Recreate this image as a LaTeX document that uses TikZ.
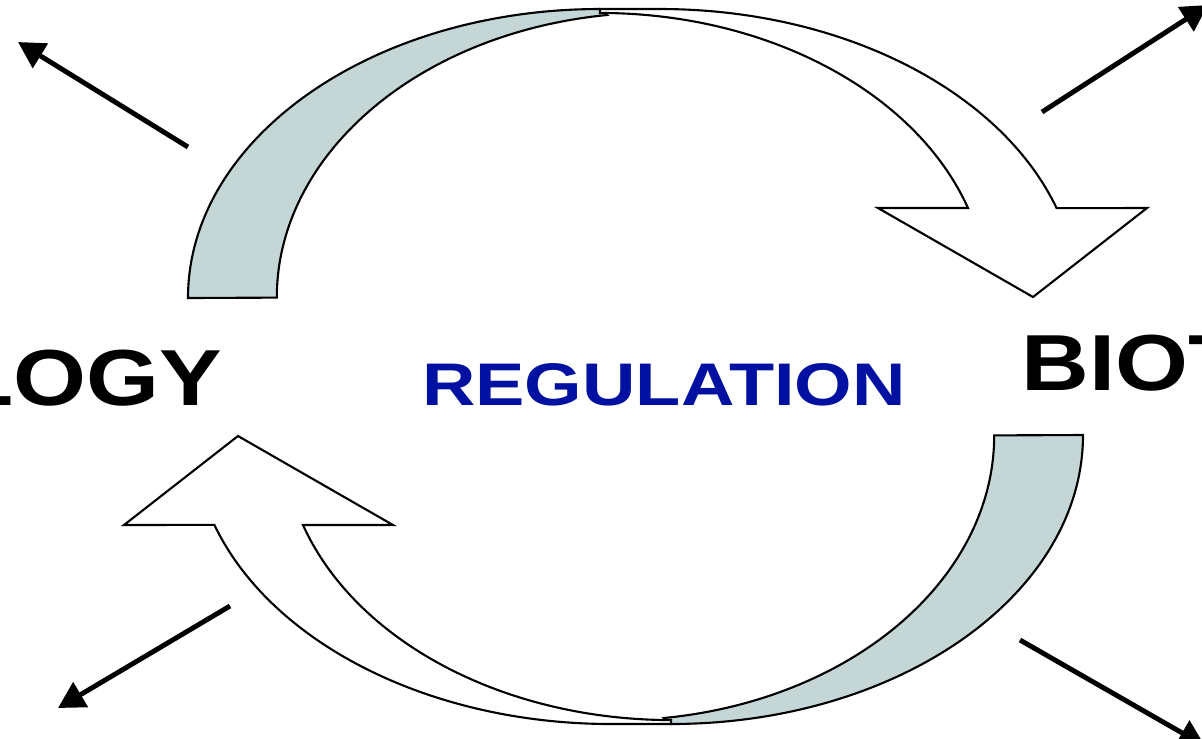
\documentclass[tikz,border=0pt]{standalone}
\usepackage{fontspec}
\setmainfont{Liberation Sans}
\usetikzlibrary{arrows.meta}
\definecolor{bandgrey}{RGB}{196,214,214}
\definecolor{regblue}{RGB}{0,16,160}

\begin{document}
\begin{tikzpicture}[x=0.01cm, y=-0.01cm,
  band/.style={draw=black, line width=0.6pt, fill=bandgrey},
  face/.style={draw=black, line width=0.6pt, fill=white},
  outarrow/.style={line width=1.4pt, -{Triangle[length=7.5pt,width=8pt]}},
  word/.style={inner sep=0pt, font=\bfseries\fontsize{22.6}{26}\selectfont}]
  \useasboundingbox (0,0) rectangle (1202,738);
  \clip (0,0) rectangle (1202,738);

  % Top arrow
  \draw[band] (188,298) arc[start angle=180, end angle=270, x radius=412, y radius=289]
    -- (607,15) arc[start angle=262.6, end angle=180, x radius=379, y radius=285] -- cycle;
  \draw[face] (600,9) -- (660,9) arc[start angle=270, end angle=341.6, x radius=418, y radius=291]
    -- (1147,208) -- (1033,297) -- (878,208) -- (968,208)
    arc[start angle=341.6, end angle=270, x radius=388, y radius=285] -- cycle;

  % Bottom arrow
  \begin{scope}[rotate around={180:(635.5,366.5)}]
    \draw[band] (188,298) arc[start angle=180, end angle=270, x radius=412, y radius=289]
      -- (607,15) arc[start angle=262.6, end angle=180, x radius=379, y radius=285] -- cycle;
    \draw[face] (600,9) -- (660,9) arc[start angle=270, end angle=341.6, x radius=418, y radius=291]
      -- (1147,208) -- (1033,297) -- (878,208) -- (968,208)
      arc[start angle=341.6, end angle=270, x radius=388, y radius=285] -- cycle;
  \end{scope}

  % Words
  \node[word, anchor=base east] (logy) at (223,405) {\scalebox{1.18}[1]{LOGY}};
  \node[word, anchor=base west] (biot) at (1021,390) {\scalebox{1.18}[1]{BIOT}};
  \node[word, text=regblue, font=\bfseries\fontsize{17.1}{20}\selectfont, anchor=base] (reg) at (664,405) {\scalebox{1.23}[1]{REGULATION}};

  % Corner arrows
  \coordinate (tl0) at (188,147); \coordinate (tl1) at (18,42);
  \coordinate (tr0) at (1042,112); \coordinate (tr1) at (1208,5);
  \coordinate (bl0) at (230,606); \coordinate (bl1) at (58,708);
  \coordinate (br0) at (1020,640); \coordinate (br1) at (1205,746);
  \draw[outarrow] (tl0) -- (tl1);
  \draw[outarrow] (tr0) -- (tr1);
  \draw[outarrow] (bl0) -- (bl1);
  \draw[outarrow] (br0) -- (br1);
\end{tikzpicture}
\end{document}
